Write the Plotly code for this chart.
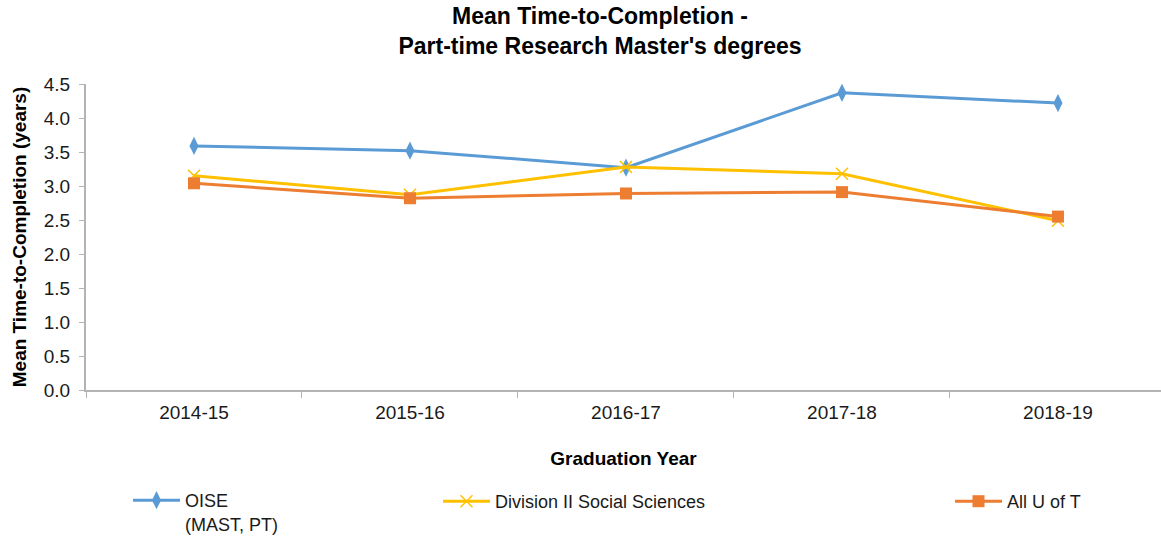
import plotly.graph_objects as go

years = ["2014-15", "2015-16", "2016-17", "2017-18", "2018-19"]
oise = [3.59, 3.52, 3.27, 4.37, 4.22]
div2 = [3.15, 2.87, 3.28, 3.18, 2.49]
allut = [3.04, 2.82, 2.89, 2.91, 2.55]

FONT = "Liberation Sans, Arial, sans-serif"
AX = "#b3b3b3"
W, H = 1161, 542
L, R, T, B = 86, 0, 84, 151
PW, PH = W - L - R, H - T - B

fig = go.Figure()
fig.add_trace(go.Scatter(x=years, y=oise, name="OISE<br>(MAST, PT)", mode="lines+markers",
                         line=dict(color="#5B9BD5", width=3),
                         marker=dict(symbol="diamond-tall", size=13, color="#5B9BD5"),
                         legend="legend"))
fig.add_trace(go.Scatter(x=years, y=div2, name="Division II Social Sciences", mode="lines+markers",
                         line=dict(color="#FFC000", width=3),
                         marker=dict(symbol="x-thin", size=12, color="#FFC000",
                                     line=dict(color="#FFC000", width=1.5)),
                         legend="legend2"))
fig.add_trace(go.Scatter(x=years, y=allut, name="All U of T", mode="lines+markers",
                         line=dict(color="#ED7D31", width=3),
                         marker=dict(symbol="square", size=12, color="#ED7D31"),
                         legend="legend3"))

def leg(xpx, ytop):
    return dict(xref="paper", yref="paper", x=(xpx - L) / PW, y=(T + PH - ytop) / PH,
                xanchor="left", yanchor="top", font=dict(size=18, color="#1a1a1a"),
                itemwidth=47, valign="top", bgcolor="rgba(0,0,0,0)")

fig.update_layout(
    width=W, height=H,
    margin=dict(l=L, r=R, t=T, b=B),
    paper_bgcolor="white", plot_bgcolor="white",
    font=dict(family=FONT, size=19, color="#1a1a1a"),
    title=dict(text="<b>Mean Time-to-Completion -<br>Part-time Research Master's degrees</b>",
               xref="container", x=600 / W, xanchor="center",
               yref="container", y=1 - 24 / H, yanchor="top", pad=dict(t=0, b=0),
               font=dict(family=FONT, size=23, color="#000000")),
    xaxis=dict(type="category", range=[-0.5, 4.477], showline=True, linecolor=AX, linewidth=1.5,
               ticks="outside", tickson="boundaries", ticklen=6, tickcolor=AX, tickwidth=1,
               showgrid=False, zeroline=False, ticklabelstandoff=4,
               title=dict(text="<b>Graduation Year</b>", font=dict(size=19, color="#000"), standoff=30),
               tickfont=dict(size=19)),
    yaxis=dict(range=[0, 4.5], dtick=0.5, tickformat=".1f", showline=True, linecolor=AX, linewidth=1.5,
               ticks="outside", ticklen=5, tickcolor=AX, tickwidth=1, showgrid=False, zeroline=False,
               ticksuffix="\u00a0",
               title=dict(text="<b>Mean Time-to-Completion (years)</b>", font=dict(size=19, color="#000"),
                          standoff=12),
               tickfont=dict(size=19)),
    legend=leg(128, 483),
    legend2=leg(438, 483),
    legend3=leg(950, 483),
    showlegend=True,
)

fig.write_html("out.html")
